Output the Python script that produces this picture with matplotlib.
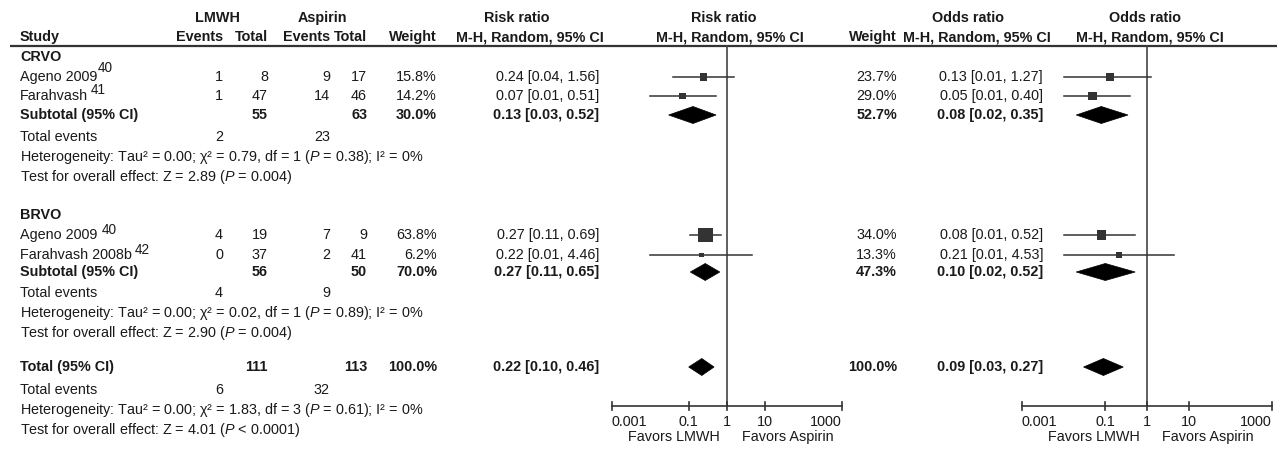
import matplotlib
matplotlib.use("Agg")
import matplotlib.pyplot as plt
from matplotlib.patches import Polygon
from matplotlib.transforms import offset_copy

plt.rcParams['font.family'] = ['Liberation Sans', 'DejaVu Sans']
plt.rcParams['mathtext.fontset'] = 'custom'
plt.rcParams['mathtext.rm'] = 'Liberation Sans'
plt.rcParams['mathtext.it'] = 'Liberation Sans:italic'
plt.rcParams['mathtext.bf'] = 'Liberation Sans:bold'

# ---------------- data ----------------
groups = ["CRVO", "BRVO"]
studies = [["Ageno 2009", "Farahvash"], ["Ageno 2009", "Farahvash 2008b"]]
study_refs = [["40", "41"], ["40", "42"]]
lmwh_events = [[1, 1], [4, 0]]
lmwh_total = [[8, 47], [19, 37]]
asp_events = [[9, 14], [7, 2]]
asp_total = [[17, 46], [9, 41]]
rr_weight = [[15.8, 14.2], [63.8, 6.2]]
rr_est = [[0.24, 0.07], [0.27, 0.22]]
rr_lo = [[0.04, 0.01], [0.11, 0.01]]
rr_hi = [[1.56, 0.51], [0.69, 4.46]]
or_weight = [[23.7, 29.0], [34.0, 13.3]]
or_est = [[0.13, 0.05], [0.08, 0.21]]
or_lo = [[0.01, 0.01], [0.01, 0.01]]
or_hi = [[1.27, 0.40], [0.52, 4.53]]

sub_lmwh_total = [55, 56]
sub_asp_total = [63, 50]
sub_rr_weight = [30.0, 70.0]
sub_rr = [(0.13, 0.03, 0.52), (0.27, 0.11, 0.65)]
sub_or_weight = [52.7, 47.3]
sub_or = [(0.08, 0.02, 0.35), (0.10, 0.02, 0.52)]
sub_events = [(2, 23), (4, 9)]
sub_het = [("0.00", "0.79", 1, "= 0.38", "0%"), ("0.00", "0.02", 1, "= 0.89", "0%")]
sub_z = [("2.89", "= 0.004"), ("2.90", "= 0.004")]

tot_lmwh_total = 111
tot_asp_total = 113
tot_rr_weight = 100.0
tot_rr = (0.22, 0.10, 0.46)
tot_or_weight = 100.0
tot_or = (0.09, 0.03, 0.27)
tot_events = (6, 32)
tot_het = ("0.00", "1.83", 3, "= 0.61", "0%")
tot_z = ("4.01", "< 0.0001")

tick_vals = [0.001, 0.1, 1, 10, 1000]
tick_labels = ["0.001", "0.1", "1", "10", "1000"]

# ---------------- layout ----------------
W, H = 1280, 454
fig = plt.figure(figsize=(W / 100, H / 100), dpi=100)
ax = fig.add_axes([0, 0, 1, 1])
ax.set_xlim(0, W)
ax.set_ylim(H, 0)
ax.axis('off')
renderer = fig.canvas.get_renderer()

FS = 10.4
SUP_FS = 9.8
TC = '#1a1a1a'
LC = '#333333'

X_STUDY = 20
X_LE, X_LT, X_AE, X_AT, X_W = 223, 268, 330, 367, 437
X_RRV = 599
X_ORW, X_ORV = 897, 1043

# superscript gap (px) and rise (px) per study row
sup_gap = [[0, 3], [4, 3]]
sup_rise = [[9, 6], [5, 5]]


def txt(x, y, s, ha='left', bold=False, size=FS):
    return ax.text(x, y, s, ha=ha, va='center', fontsize=size, color=TC,
                   fontweight='bold' if bold else 'normal')


# headers
txt(217, 18, "LMWH", ha='center', bold=True)
txt(322, 18, "Aspirin", ha='center', bold=True)
txt(517, 18, "Risk ratio", ha='center', bold=True)
txt(724, 18, "Risk ratio", ha='center', bold=True)
txt(968, 18, "Odds ratio", ha='center', bold=True)
txt(1145, 18, "Odds ratio", ha='center', bold=True)
txt(X_STUDY, 37, "Study", bold=True)
txt(X_LE, 37, "Events", ha='right', bold=True)
txt(X_LT, 37, "Total", ha='right', bold=True)
txt(X_AE, 37, "Events", ha='right', bold=True)
txt(X_AT, 37, "Total", ha='right', bold=True)
txt(X_W, 37, "Weight", ha='right', bold=True)
txt(530, 37, "M-H, Random, 95% CI", ha='center', bold=True)
txt(730, 37, "M-H, Random, 95% CI", ha='center', bold=True)
txt(X_ORW, 37, "Weight", ha='right', bold=True)
txt(977, 37, "M-H, Random, 95% CI", ha='center', bold=True)
txt(1150, 37, "M-H, Random, 95% CI", ha='center', bold=True)
ax.plot([10, 1277], [45.5, 45.5], color=LC, lw=1.6, solid_capstyle='butt')

# forest axes
ax_rr = fig.add_axes([612 / W, 0, (842 - 612) / W, 1])
ax_or = fig.add_axes([1022 / W, 0, (1272 - 1022) / W, 1])
for a in (ax_rr, ax_or):
    a.set_xscale('log')
    a.set_xlim(0.001, 1000)
    a.set_ylim(H, 0)
    a.axis('off')
    a.patch.set_alpha(0)

AXIS_Y = 406
DH = 8.5  # diamond half height (px)


def draw_axis(a):
    a.plot([1, 1], [45.5, AXIS_Y], color='#444444', lw=1.2, clip_on=False)
    a.plot([tick_vals[0], tick_vals[-1]], [AXIS_Y, AXIS_Y], color=LC, lw=1.2, clip_on=False)
    n = len(tick_vals)
    for j, (v, l) in enumerate(zip(tick_vals, tick_labels)):
        a.plot([v, v], [AXIS_Y - 4.5, AXIS_Y + 3.5], color=LC, lw=1.2, clip_on=False)
        ha = 'left' if j == 0 else ('right' if j == n - 1 else 'center')
        a.text(v, 422, l, ha=ha, va='center', fontsize=FS, color=TC)
    a.text(1, 437, "Favors LMWH", ha='right', va='center', fontsize=FS, color=TC,
           transform=offset_copy(a.transData, fig=fig, x=-7, y=0, units='dots'))
    a.text(1, 437, "Favors Aspirin", ha='left', va='center', fontsize=FS, color=TC,
           transform=offset_copy(a.transData, fig=fig, x=15, y=0, units='dots'))


def draw_study(a, y, est, lo, hi, w, k):
    a.plot([lo, hi], [y, y], color=LC, lw=1.1, clip_on=False, zorder=2)
    side_pt = k * (w ** 0.5) * 0.72
    a.scatter([est], [y], marker='s', s=side_pt ** 2, color='#333333',
              edgecolor='none', zorder=3, clip_on=False)


def draw_diamond(a, y, est, lo, hi):
    a.add_patch(Polygon([[lo, y], [est, y - DH], [hi, y], [est, y + DH]],
                        closed=True, facecolor='black', edgecolor='black',
                        lw=0.5, clip_on=False, zorder=3))


draw_axis(ax_rr)
draw_axis(ax_or)

K_RR, K_OR = 1.85, 1.6


def ci_str(e, l, h):
    return f"{e:.2f} [{l:.2f}, {h:.2f}]"


group_y = [57, 215]
row_gap = [(20, 39, 58, 80, 100, 120), (20, 40, 57, 78, 98, 118)]
for g in range(2):
    y0 = group_y[g]
    d = row_gap[g]
    txt(X_STUDY, y0, groups[g], bold=True)
    for i in range(2):
        y = y0 + d[i]
        t_main = txt(X_STUDY, y, studies[g][i])
        bb = t_main.get_window_extent(renderer=renderer)
        x_end = bb.x1  # display px, same as data px in x for ax
        ax.text(x_end + sup_gap[g][i], y - sup_rise[g][i], study_refs[g][i],
                ha='left', va='center', fontsize=SUP_FS, color=TC)
        txt(X_LE, y, str(lmwh_events[g][i]), ha='right')
        txt(X_LT, y, str(lmwh_total[g][i]), ha='right')
        txt(X_AE, y, str(asp_events[g][i]), ha='right')
        txt(X_AT, y, str(asp_total[g][i]), ha='right')
        txt(X_W, y, f"{rr_weight[g][i]:.1f}%", ha='right')
        txt(X_RRV, y, ci_str(rr_est[g][i], rr_lo[g][i], rr_hi[g][i]), ha='right')
        txt(X_ORW, y, f"{or_weight[g][i]:.1f}%", ha='right')
        txt(X_ORV, y, ci_str(or_est[g][i], or_lo[g][i], or_hi[g][i]), ha='right')
        draw_study(ax_rr, y, rr_est[g][i], rr_lo[g][i], rr_hi[g][i], rr_weight[g][i], K_RR)
        draw_study(ax_or, y, or_est[g][i], or_lo[g][i], or_hi[g][i], or_weight[g][i], K_OR)
    y = y0 + d[2]
    txt(X_STUDY, y, "Subtotal (95% CI)", bold=True)
    txt(X_LT, y, str(sub_lmwh_total[g]), ha='right', bold=True)
    txt(X_AT, y, str(sub_asp_total[g]), ha='right', bold=True)
    txt(X_W, y, f"{sub_rr_weight[g]:.1f}%", ha='right', bold=True)
    txt(X_RRV, y, ci_str(*sub_rr[g]), ha='right', bold=True)
    txt(X_ORW, y, f"{sub_or_weight[g]:.1f}%", ha='right', bold=True)
    txt(X_ORV, y, ci_str(*sub_or[g]), ha='right', bold=True)
    draw_diamond(ax_rr, y, *sub_rr[g])
    draw_diamond(ax_or, y, *sub_or[g])
    y = y0 + d[3]
    txt(X_STUDY, y, "Total events")
    txt(X_LE, y, str(sub_events[g][0]), ha='right')
    txt(X_AE, y, str(sub_events[g][1]), ha='right')
    t, c, df, p, i2 = sub_het[g]
    txt(X_STUDY, y0 + d[4], f"Heterogeneity: Tau² = {t}; χ² = {c}, df = {df} ($P$ {p}); I² = {i2}")
    z, pz = sub_z[g]
    txt(X_STUDY, y0 + d[5], f"Test for overall effect: Z = {z} ($P$ {pz})")

# overall
y = 367
txt(X_STUDY, y, "Total (95% CI)", bold=True)
txt(X_LT, y, str(tot_lmwh_total), ha='right', bold=True)
txt(X_AT, y, str(tot_asp_total), ha='right', bold=True)
txt(X_W, y, f"{tot_rr_weight:.1f}%", ha='right', bold=True)
txt(X_RRV, y, ci_str(*tot_rr), ha='right', bold=True)
txt(X_ORW, y, f"{tot_or_weight:.1f}%", ha='right', bold=True)
txt(X_ORV, y, ci_str(*tot_or), ha='right', bold=True)
draw_diamond(ax_rr, y, *tot_rr)
draw_diamond(ax_or, y, *tot_or)
txt(X_STUDY, 390, "Total events")
txt(X_LE, 390, str(tot_events[0]), ha='right')
txt(X_AE, 390, str(tot_events[1]), ha='right')
t, c, df, p, i2 = tot_het
txt(X_STUDY, 410, f"Heterogeneity: Tau² = {t}; χ² = {c}, df = {df} ($P$ {p}); I² = {i2}")
txt(X_STUDY, 430, f"Test for overall effect: Z = {tot_z[0]} ($P$ {tot_z[1]})")

fig.savefig("out.png", dpi=100, facecolor='white')
